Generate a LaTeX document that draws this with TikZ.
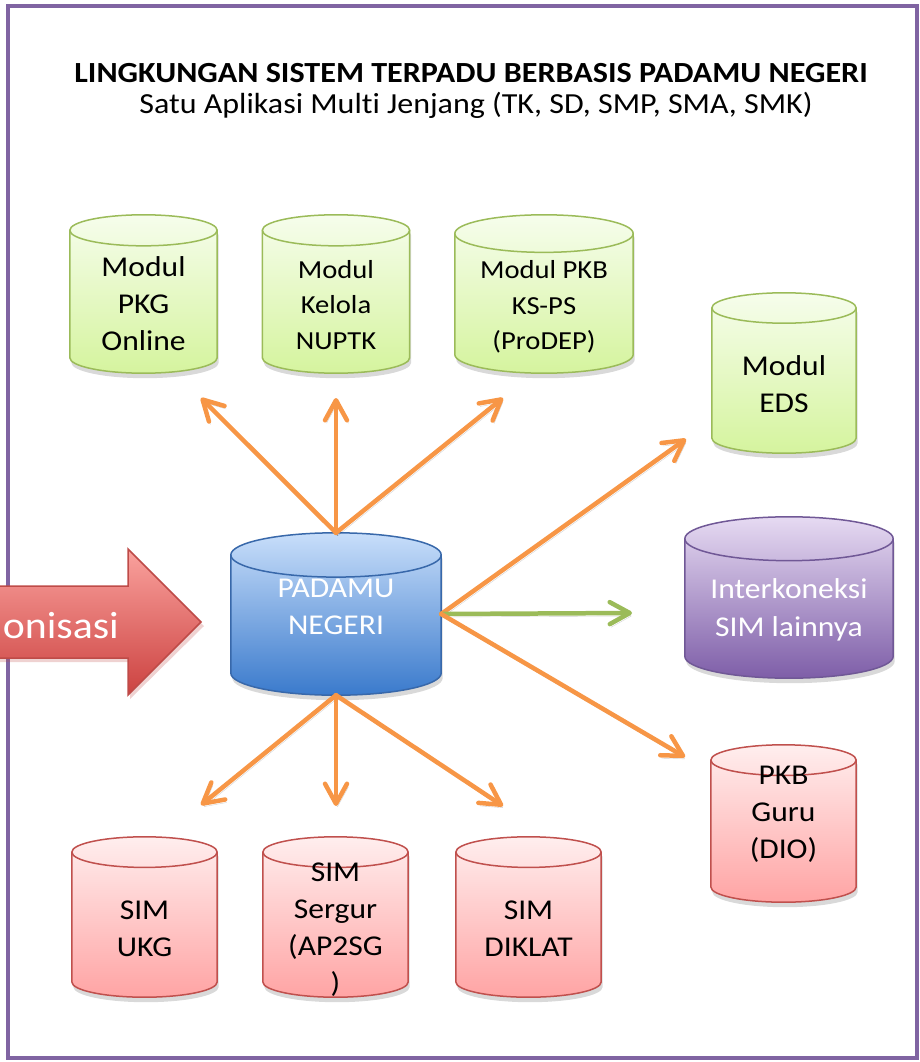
\documentclass[tikz,border=0pt]{standalone}
\usepackage{fontspec}
\setmainfont{Carlito}[FakeStretch=1.1, Ligatures=NoCommon]
\usepackage{xcolor}
\usepackage{tikz}
\usetikzlibrary{arrows.meta, positioning, calc, shadows, backgrounds}

\definecolor{frameviolet}{RGB}{128,100,162}
\definecolor{linkorange}{RGB}{247,150,70}
\definecolor{linkgreen}{RGB}{155,187,89}
\definecolor{greenedge}{RGB}{155,187,89}
\definecolor{greentop}{RGB}{246,253,236}
\definecolor{greenbot}{RGB}{213,244,158}
\definecolor{rededge}{RGB}{192,80,77}
\definecolor{redtop}{RGB}{255,238,238}
\definecolor{redbot}{RGB}{255,164,164}
\definecolor{blueedge}{RGB}{56,104,170}
\definecolor{bluetop}{RGB}{200,222,250}
\definecolor{bluebot}{RGB}{58,122,204}
\definecolor{violetedge}{RGB}{112,88,150}
\definecolor{violettop}{RGB}{230,218,242}
\definecolor{violetbot}{RGB}{126,94,168}
\definecolor{bigtop}{RGB}{250,162,158}
\definecolor{bigbot}{RGB}{204,66,64}
\definecolor{bigedge}{RGB}{190,75,72}

% cylinder round a named node: name, edge, top, bottom
\newcommand{\dbcyl}[4]{%
  \scoped[on background layer]
  \path[draw=#2, line width=1.5pt, top color=#3, bottom color=#4,
      drop shadow={shadow xshift=1.5pt, shadow yshift=-5pt, opacity=0.3}]
    let \p1=(#1.north west), \p2=(#1.south east),
        \n1={(\x2-\x1)/2}, \n2={(\x2-\x1)/9.5} in
    (\x1,\y1-\n2) -- (\x1,\y2+\n2)
    arc[start angle=180, end angle=360, x radius=\n1, y radius=\n2]
    -- (\x2,\y1-\n2)
    arc[start angle=0, end angle=180, x radius=\n1, y radius=\n2] -- cycle;
  \scoped[on background layer]
  \draw[draw=#2, line width=1.5pt]
    let \p1=(#1.north west), \p2=(#1.south east),
        \n1={(\x2-\x1)/2}, \n2={(\x2-\x1)/9.5} in
    (\x1,\y1-\n2) arc[start angle=180, end angle=360, x radius=\n1, y radius=\n2];
}

\begin{document}
\begin{tikzpicture}[
  x=1pt, y=-1pt,
  font=\fontsize{28.7}{37}\selectfont,
  db/.style={rectangle, inner sep=0pt, minimum width=147pt, minimum height=158pt},
  dbtext/.style={align=center, inner sep=0pt},
  small/.style={font=\fontsize{26}{35.5}\selectfont},
  link/.style={-{Straight Barb[length=20pt, width=22pt, round]}, line width=4.5pt, draw=linkorange,
    line cap=round, preaction={draw=black, draw opacity=0.18, transform canvas={xshift=1.5pt, yshift=-3pt}}},
  title/.style={font=\fontsize{29.2}{34}\selectfont\bfseries}
]
\useasboundingbox (0,0) rectangle (919,1062);

% FRAME
\draw[frameviolet, line width=4pt] (8,6) rectangle (916.5,1058);

% HEADER
\node[title] (judul) at (471,73.5) {LINGKUNGAN SISTEM TERPADU BERBASIS PADAMU NEGERI};
\node[font=\fontsize{29.1}{34}\selectfont] (subjudul) at (476,105) {Satu Aplikasi Multi Jenjang (TK, SD, SMP, SMA, SMK)};

% SYNC ARROW
\fill[bigedge, opacity=0.25] (0,590) -- (130,590) -- (130,553) -- (204,626) -- (130,699) -- (130,662) -- (0,662) -- cycle;
\shade[top color=bigtop, bottom color=bigbot] (0,586) -- (128,586) -- (128,549) -- (201,622) -- (128,695) -- (128,658) -- (0,658) -- cycle;
\draw[bigedge, line width=1.5pt, line join=miter] (0,586) -- (128,586) -- (128,549) -- (201,622) -- (128,695) -- (128,658) -- (0,658);
\node[anchor=base east, inner sep=0pt, white, font=\fontsize{38}{44}\selectfont] (sinkron) at (119,638) {onisasi};

% TOP MODULES
\node[db, label={[dbtext, yshift=-10pt]center:{Modul\\PKG\\Online}}] (pkg) at (143.5,294) {};
\node[db, label={[dbtext, small, yshift=-11pt]center:{Modul\\Kelola\\NUPTK}}] (nuptk) at (336,294) {};
\node[db, minimum width=178pt, label={[dbtext, small, yshift=-13pt]center:{Modul PKB\\KS-PS\\(ProDEP)}}] (prodep) at (544,294) {};
\node[db, minimum width=144pt, minimum height=160pt, label={[dbtext, yshift=-11pt]center:{Modul\\EDS}}] (eds) at (784,373) {};
\foreach \k in {pkg,nuptk,prodep,eds} {\dbcyl{\k}{greenedge}{greentop}{greenbot}}

% CENTRE
\node[db, minimum width=210pt, minimum height=162pt,
  label={[dbtext, white, yshift=7pt]center:{PADAMU\\NEGERI}}] (padamu) at (336,614) {};
\dbcyl{padamu}{blueedge}{bluetop}{bluebot}
\node[db, minimum width=208pt, minimum height=161pt,
  label={[dbtext, white, font=\fontsize{28.7}{38}\selectfont, yshift=-12pt]center:{Interkoneksi\\SIM lainnya}}] (simlain) at (789,597.5) {};
\dbcyl{simlain}{violetedge}{violettop}{violetbot}

% SIM
\node[db, minimum width=145pt, minimum height=157pt, label={[dbtext, yshift=9pt]center:{PKB\\Guru\\(DIO)}}] (pkbguru) at (783.5,823.5) {};
\node[db, minimum width=145pt, minimum height=160pt, label={[dbtext, yshift=-12pt]center:{SIM\\UKG}}] (ukg) at (144.5,917) {};
\node[db, minimum width=145pt, minimum height=160pt, label={[dbtext, yshift=-13pt]center:{SIM\\Sergur\\(AP2SG\\)}}] (sergur) at (335.5,917) {};
\node[db, minimum width=145pt, minimum height=160pt, label={[dbtext, yshift=-12pt]center:{SIM\\DIKLAT}}] (diklat) at (528.5,917) {};
\foreach \k in {pkbguru,ukg,sergur,diklat} {\dbcyl{\k}{rededge}{redtop}{redbot}}

% ARROW ENDS
\coordinate (toPkg) at (201,398);
\coordinate (toNuptk) at (336,398);
\coordinate (toProdep) at (503,398);
\coordinate (toEds) at (686,439);
\coordinate (toLain) at (632,613);
\coordinate (toGuru) at (685,757);
\coordinate (toUkg) at (201,805);
\coordinate (toSergur) at (336,806);
\coordinate (toDiklat) at (503,806);

\draw[link] (padamu.north) -- (toPkg);
\draw[link] (padamu.north) -- (toNuptk);
\draw[link] (padamu.north) -- (toProdep);
\draw[link] (padamu.east) -- (toEds);
\draw[link, draw=linkgreen] (padamu.east) -- (toLain);
\draw[link] (padamu.east) -- (toGuru);
\draw[link] (padamu.south) -- (toUkg);
\draw[link] (padamu.south) -- (toSergur);
\draw[link] (padamu.south) -- (toDiklat);

\end{tikzpicture}
\end{document}
